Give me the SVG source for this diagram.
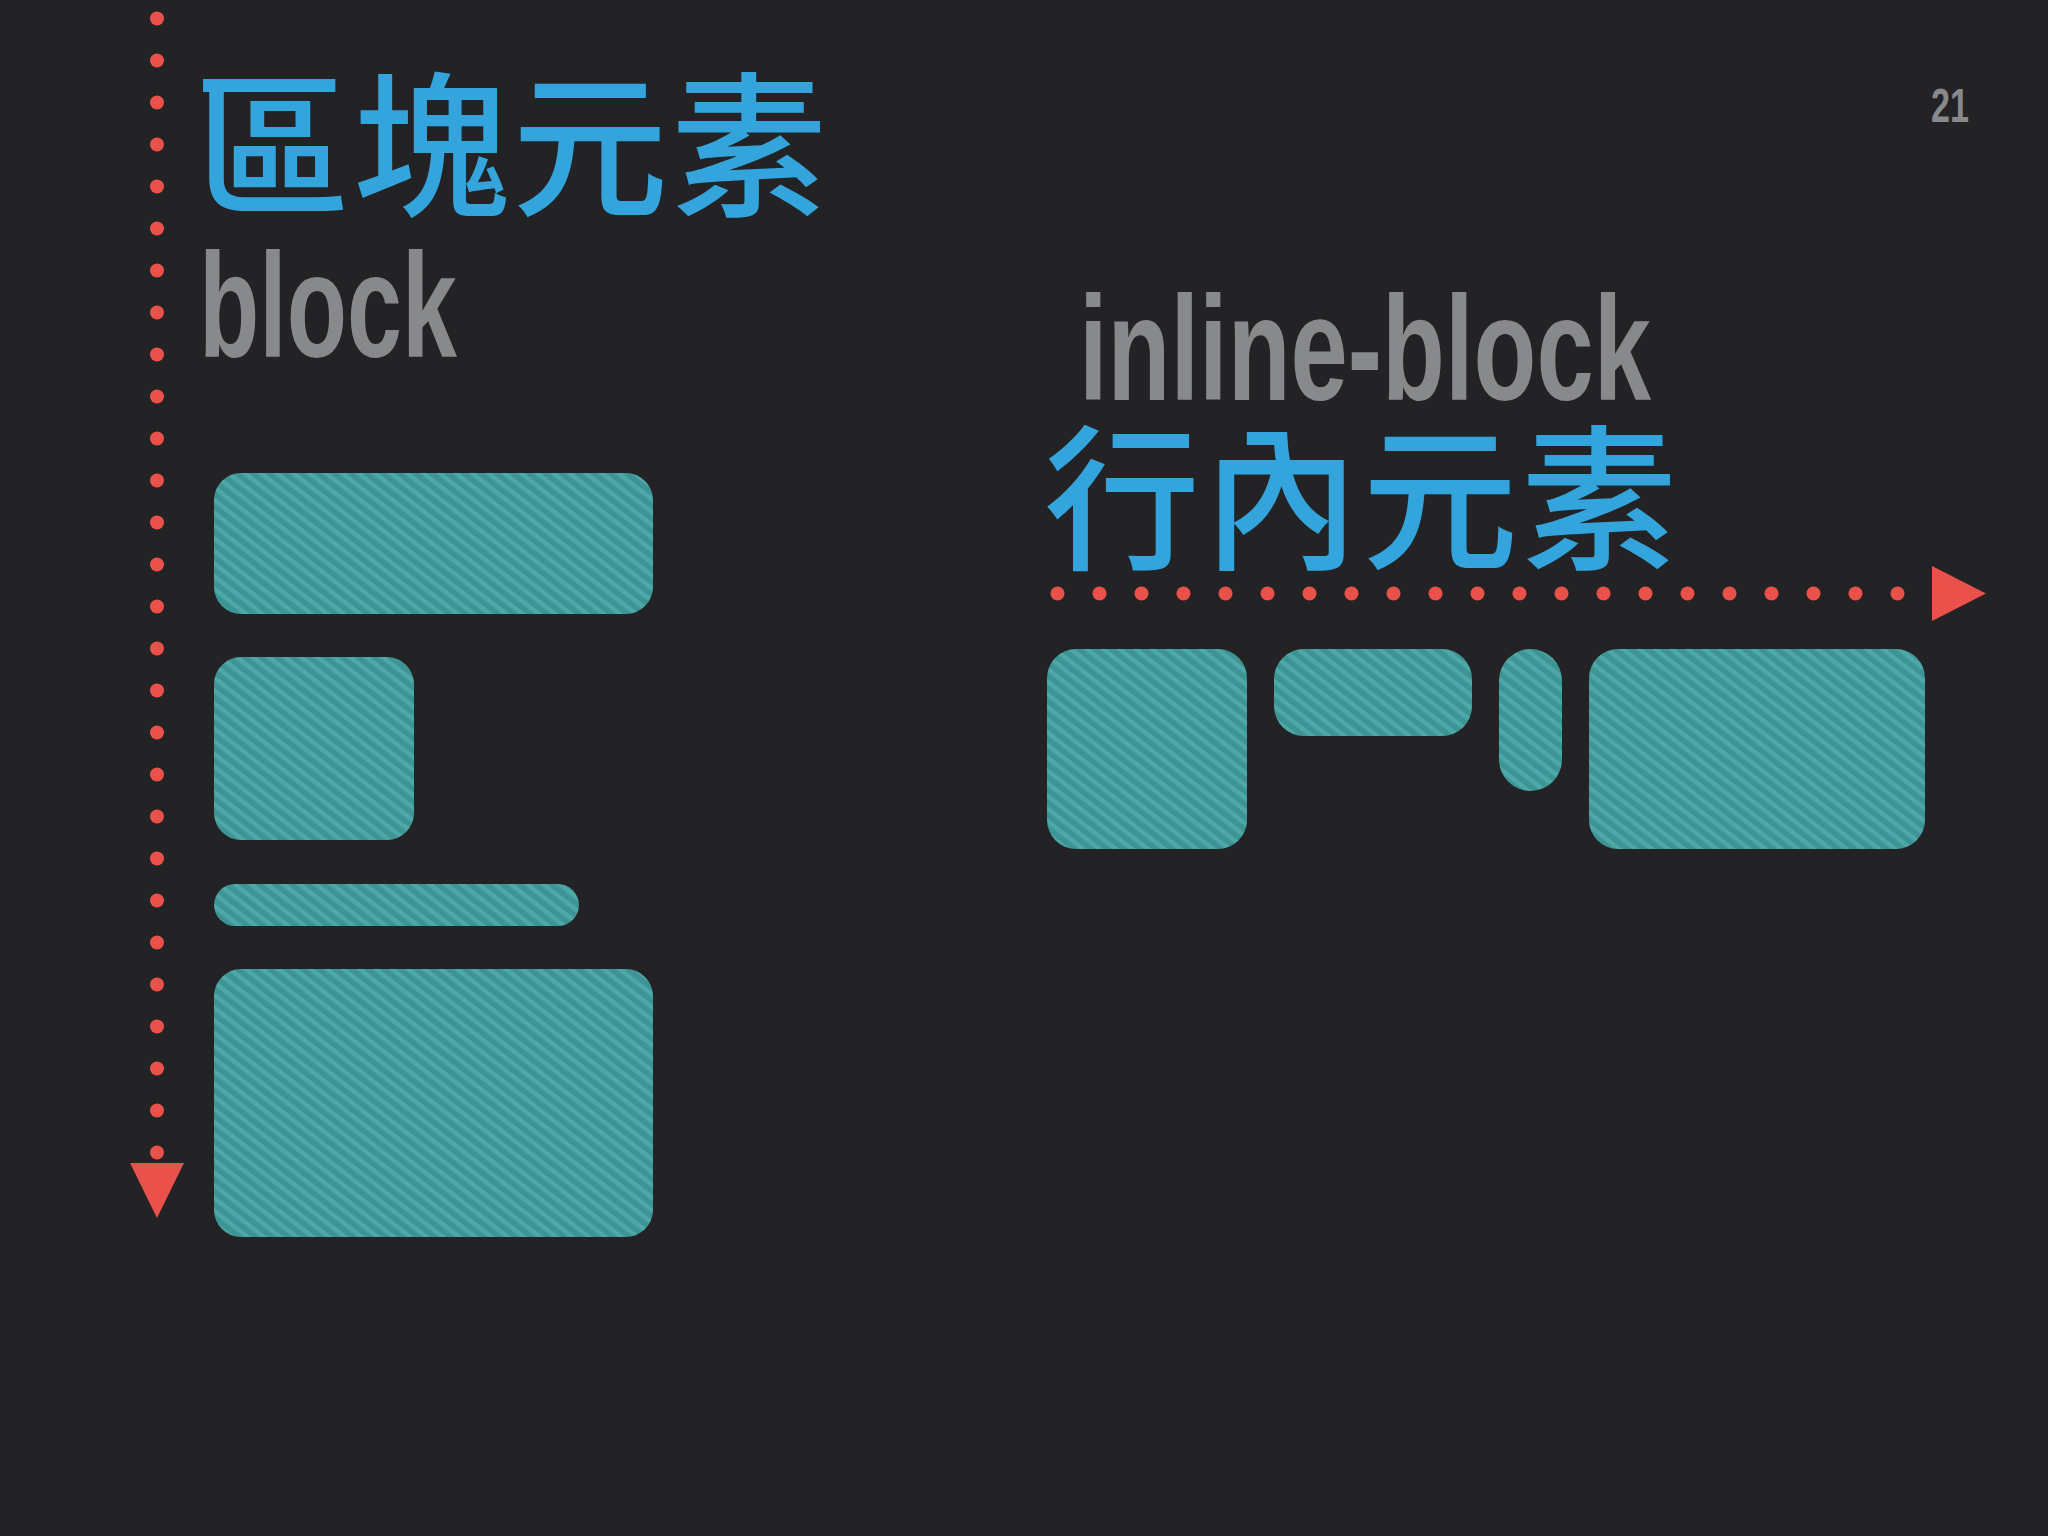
<svg xmlns="http://www.w3.org/2000/svg" width="2048" height="1536" viewBox="0 0 2048 1536">
<defs>
<pattern id="stripes" patternUnits="userSpaceOnUse" width="10" height="10" patternTransform="rotate(38)">
<rect x="0" y="0" width="10" height="10" fill="#3c9494"/>
<rect x="0" y="0" width="10" height="4.5" fill="#4ea8a7"/>
</pattern>
</defs>
<style>
.cjk{font-family:"Noto Sans CJK TC","Noto Sans CJK SC",sans-serif;font-weight:500;fill:#33a5dc;font-size:156px;letter-spacing:3px}
.lat{font-family:"Liberation Sans",Arial,sans-serif;font-weight:700;fill:#88898b}
.box{fill:url(#stripes)}
.dot{fill:#ea514b}
</style>
<rect x="0" y="0" width="2048" height="1536" fill="#232224"/>

<g id="page-number"><text class="lat" x="1931" y="122" font-size="49" font-weight="400" textLength="38" lengthAdjust="spacingAndGlyphs">21</text></g>

<g id="title-block">
<text class="cjk" x="194" y="204">區塊元素</text>
<text class="lat" x="199" y="357" font-size="148" textLength="258" lengthAdjust="spacingAndGlyphs">block</text>
</g>

<g id="title-inline">
<text class="lat" x="1079" y="400" font-size="148" textLength="572" lengthAdjust="spacingAndGlyphs">inline-block</text>
<text class="cjk" x="1044" y="557">行內元素</text>
</g>

<g id="connectors">
<g id="vertical-flow">
<circle class="dot" cx="157" cy="18.5" r="7"/>
<circle class="dot" cx="157" cy="60.5" r="7"/>
<circle class="dot" cx="157" cy="102.5" r="7"/>
<circle class="dot" cx="157" cy="144.5" r="7"/>
<circle class="dot" cx="157" cy="186.5" r="7"/>
<circle class="dot" cx="157" cy="228.5" r="7"/>
<circle class="dot" cx="157" cy="270.5" r="7"/>
<circle class="dot" cx="157" cy="312.5" r="7"/>
<circle class="dot" cx="157" cy="354.5" r="7"/>
<circle class="dot" cx="157" cy="396.5" r="7"/>
<circle class="dot" cx="157" cy="438.5" r="7"/>
<circle class="dot" cx="157" cy="480.5" r="7"/>
<circle class="dot" cx="157" cy="522.5" r="7"/>
<circle class="dot" cx="157" cy="564.5" r="7"/>
<circle class="dot" cx="157" cy="606.5" r="7"/>
<circle class="dot" cx="157" cy="648.5" r="7"/>
<circle class="dot" cx="157" cy="690.5" r="7"/>
<circle class="dot" cx="157" cy="732.5" r="7"/>
<circle class="dot" cx="157" cy="774.5" r="7"/>
<circle class="dot" cx="157" cy="816.5" r="7"/>
<circle class="dot" cx="157" cy="858.5" r="7"/>
<circle class="dot" cx="157" cy="900.5" r="7"/>
<circle class="dot" cx="157" cy="942.5" r="7"/>
<circle class="dot" cx="157" cy="984.5" r="7"/>
<circle class="dot" cx="157" cy="1026.5" r="7"/>
<circle class="dot" cx="157" cy="1068.5" r="7"/>
<circle class="dot" cx="157" cy="1110.5" r="7"/>
<circle class="dot" cx="157" cy="1152.5" r="7"/>
<polygon class="dot" points="130,1163 184,1163 157,1218"/>
</g>
<g id="horizontal-flow">
<circle class="dot" cx="1057.5" cy="593.5" r="7"/>
<circle class="dot" cx="1099.5" cy="593.5" r="7"/>
<circle class="dot" cx="1141.5" cy="593.5" r="7"/>
<circle class="dot" cx="1183.5" cy="593.5" r="7"/>
<circle class="dot" cx="1225.5" cy="593.5" r="7"/>
<circle class="dot" cx="1267.5" cy="593.5" r="7"/>
<circle class="dot" cx="1309.5" cy="593.5" r="7"/>
<circle class="dot" cx="1351.5" cy="593.5" r="7"/>
<circle class="dot" cx="1393.5" cy="593.5" r="7"/>
<circle class="dot" cx="1435.5" cy="593.5" r="7"/>
<circle class="dot" cx="1477.5" cy="593.5" r="7"/>
<circle class="dot" cx="1519.5" cy="593.5" r="7"/>
<circle class="dot" cx="1561.5" cy="593.5" r="7"/>
<circle class="dot" cx="1603.5" cy="593.5" r="7"/>
<circle class="dot" cx="1645.5" cy="593.5" r="7"/>
<circle class="dot" cx="1687.5" cy="593.5" r="7"/>
<circle class="dot" cx="1729.5" cy="593.5" r="7"/>
<circle class="dot" cx="1771.5" cy="593.5" r="7"/>
<circle class="dot" cx="1813.5" cy="593.5" r="7"/>
<circle class="dot" cx="1855.5" cy="593.5" r="7"/>
<circle class="dot" cx="1897.5" cy="593.5" r="7"/>
<polygon class="dot" points="1932,566 1932,621 1986,593.5"/>
</g>
</g>

<g id="block-1"><rect class="box" x="214" y="473" width="439" height="141" rx="27"/></g>
<g id="block-2"><rect class="box" x="214" y="657" width="200" height="183" rx="27"/></g>
<g id="block-3"><rect class="box" x="214" y="884" width="365" height="42" rx="21"/></g>
<g id="block-4"><rect class="box" x="214" y="969" width="439" height="268" rx="27"/></g>

<g id="inline-1"><rect class="box" x="1047" y="649" width="200" height="200" rx="29"/></g>
<g id="inline-2"><rect class="box" x="1274" y="649" width="198" height="87" rx="30"/></g>
<g id="inline-3"><rect class="box" x="1499" y="649" width="63" height="142" rx="31.5"/></g>
<g id="inline-4"><rect class="box" x="1589" y="649" width="336" height="200" rx="29"/></g>
</svg>
